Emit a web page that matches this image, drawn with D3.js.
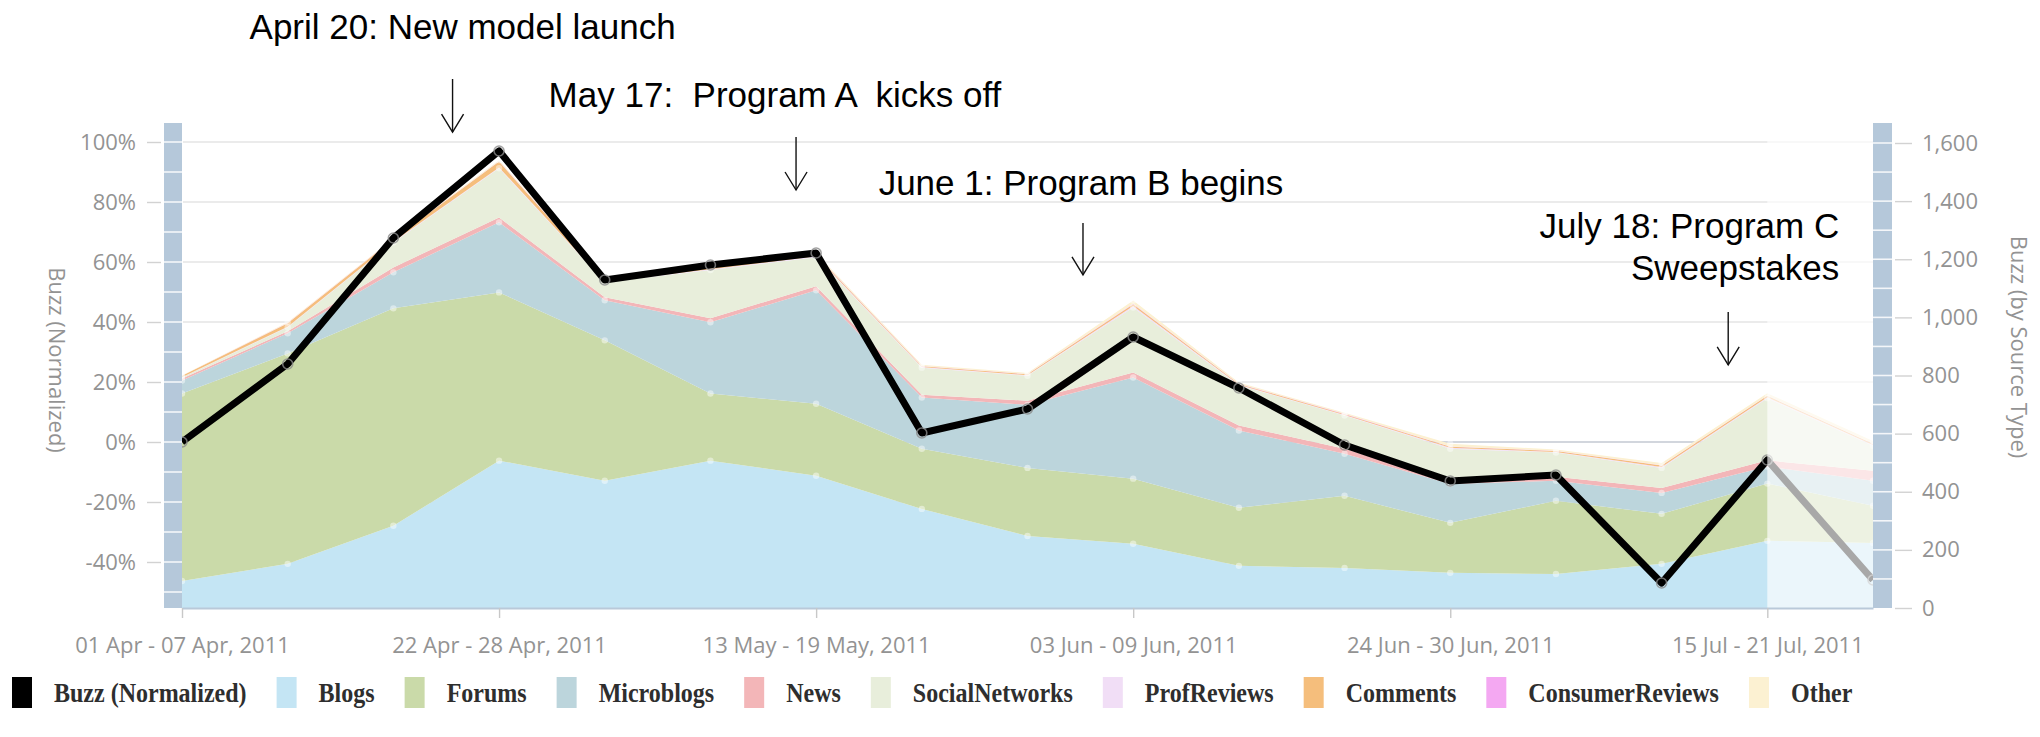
<!DOCTYPE html>
<html>
<head>
<meta charset="utf-8">
<script src="https://cdn.jsdelivr.net/npm/d3@7"></script>
<style>
  html, body { margin: 0; padding: 0; background: #fff; }
  svg { display: block; }
</style>
</head>
<body>
<svg id="chart" width="2040" height="737"></svg>
<script>
// ---- data ------------------------------------------------------------
const weeks = [
  "01 Apr - 07 Apr, 2011", "08 Apr - 14 Apr, 2011", "15 Apr - 21 Apr, 2011",
  "22 Apr - 28 Apr, 2011", "29 Apr - 05 May, 2011", "06 May - 12 May, 2011",
  "13 May - 19 May, 2011", "20 May - 26 May, 2011", "27 May - 02 Jun, 2011",
  "03 Jun - 09 Jun, 2011", "10 Jun - 16 Jun, 2011", "17 Jun - 23 Jun, 2011",
  "24 Jun - 30 Jun, 2011", "01 Jul - 07 Jul, 2011", "08 Jul - 14 Jul, 2011",
  "15 Jul - 21 Jul, 2011", "22 Jul - 28 Jul, 2011"
];
const xTickLabels = [
  "01 Apr - 07 Apr, 2011", "22 Apr - 28 Apr, 2011", "13 May - 19 May, 2011",
  "03 Jun - 09 Jun, 2011", "24 Jun - 30 Jun, 2011", "15 Jul - 21 Jul, 2011"
];
const leftTicks = [-40, -20, 0, 20, 40, 60, 80, 100];
const rightTicks = [0, 200, 400, 600, 800, 1000, 1200, 1400, 1600];

// normalized buzz, percent
const buzzNormalized = [0, 26, 68, 97, 54, 59, 63, 3, 11, 35, 18, -1, -13, -11, -47, -6, -46];

// mentions by source type
const blogs           = [93, 152, 283, 507, 438, 507, 455, 341, 248, 221, 145, 138, 121, 117, 152, 231, 224];
const forums          = [645, 724, 748, 579, 483, 231, 248, 207, 234, 224, 200, 248, 172, 252, 172, 197, 128];
const microblogs      = [45, 69, 124, 241, 138, 245, 390, 176, 217, 348, 266, 145, 134, 69, 72, 59, 86];
const news            = [7, 7, 17, 17, 10, 14, 14, 10, 14, 17, 17, 17, 7, 14, 17, 21, 34];
const socialNetworks  = [3, 14, 86, 169, 52, 166, 100, 93, 86, 224, 138, 114, 114, 83, 69, 214, 86];
const profReviews     = [1, 2, 2, 3, 2, 3, 3, 2, 2, 5, 2, 2, 3, 2, 3, 3, 3];
const comments        = [5, 12, 9, 20, 4, 6, 5, 3, 3, 6, 3, 3, 4, 3, 5, 5, 4];
const consumerReviews = [0, 1, 1, 1, 1, 1, 1, 1, 1, 2, 1, 1, 1, 1, 1, 1, 1];
const other           = [1, 2, 2, 4, 3, 4, 5, 4, 4, 11, 4, 4, 9, 4, 8, 8, 9];

const seriesNames = ["Blogs", "Forums", "Microblogs", "News", "SocialNetworks",
                     "ProfReviews", "Comments", "ConsumerReviews", "Other"];
const seriesValues = [blogs, forums, microblogs, news, socialNetworks,
                      profReviews, comments, consumerReviews, other];
const seriesColors = ["#c4e5f4", "#cadaa9", "#bcd5dc", "#f3b6b8", "#e8eedb",
                      "#f1def6", "#f5be7c", "#f4a8f2", "#fcf1d2"];

// the last week is still in progress
const partialFromIndex = 15;

// event callouts (positions in week-index / percent units)
const annotations = [
  { lines: ["April 20: New model launch"], anchor: "middle", textAt: 2.655, baselines: [134.3],
    arrowAt: 2.56, arrowFrom: 121, arrowTo: 103.3 },
  { lines: ["May 17:  Program A  kicks off"], anchor: "middle", textAt: 5.61, baselines: [111.7],
    arrowAt: 5.81, arrowFrom: 101.7, arrowTo: 84 },
  { lines: ["June 1: Program B begins"], anchor: "middle", textAt: 8.506, baselines: [82.3],
    arrowAt: 8.525, arrowFrom: 73, arrowTo: 55.7 },
  { lines: ["July 18: Program C", "Sweepstakes"], anchor: "end", textAt: 15.68, baselines: [68, 54],
    arrowAt: 14.63, arrowFrom: 43.3, arrowTo: 25.7 }
];

// ---- layout ----------------------------------------------------------
const plot = { left: 182, right: 1873, top: 123, bottom: 608 };
const axisFont = "'Open Sans', 'Lato', sans-serif";
const axisColor = "#939393";
const svg = d3.select("#chart");

const x = d3.scalePoint().domain(weeks).range([plot.left, plot.right]);
const xIdx = d3.scaleLinear().domain([0, weeks.length - 1]).range([plot.left, plot.right]);
const yL = d3.scaleLinear().domain([-40, 100]).range([562, 142]);
const yR = d3.scaleLinear().domain([0, 1600]).range([608, 143]);

// gridlines
svg.append("g").selectAll("line").data(leftTicks).join("line")
  .attr("x1", plot.left + 1).attr("x2", plot.right)
  .attr("y1", d => yL(d)).attr("y2", d => yL(d))
  .attr("stroke", d => d === 0 ? "#c3c9d2" : "#ebebeb")
  .attr("stroke-width", d => d === 0 ? 1.6 : 2);

// stacked source areas
const rows = weeks.map((w, i) => {
  const r = { week: w };
  seriesNames.forEach((n, k) => { r[n] = seriesValues[k][i]; });
  return r;
});
const stacked = d3.stack().keys(seriesNames)(rows);
const area = d3.area()
  .x(d => x(d.data.week))
  .y0(d => yR(d[0]))
  .y1(d => yR(d[1]));

svg.append("g").selectAll("path").data(stacked).join("path")
  .attr("d", area)
  .attr("fill", (d, i) => seriesColors[i]);

// faint vertex dots along the main layer tops
const dotted = ["Blogs", "Forums", "Microblogs", "SocialNetworks", "Other"];
svg.append("g").selectAll("g").data(stacked.filter(s => dotted.includes(s.key))).join("g")
  .selectAll("circle").data(s => s).join("circle")
  .attr("cx", d => x(d.data.week)).attr("cy", d => yR(d[1]))
  .attr("r", 3.2).attr("fill", "#fff").attr("opacity", 0.45);

// normalized buzz line
const buzzLine = d3.line()
  .x((d, i) => x(weeks[i]))
  .y(d => yL(d));
svg.append("path").datum(buzzNormalized)
  .attr("d", buzzLine)
  .attr("fill", "none")
  .attr("stroke", "#000")
  .attr("stroke-width", 7)
  .attr("stroke-linejoin", "round");
svg.append("g").selectAll("circle").data(buzzNormalized).join("circle")
  .attr("cx", (d, i) => x(weeks[i])).attr("cy", d => yL(d))
  .attr("r", 5).attr("fill", "none")
  .attr("stroke", "#8a8a8a").attr("stroke-width", 1.6).attr("opacity", 0.8);

// wash over the incomplete week
svg.append("rect")
  .attr("x", x(weeks[partialFromIndex]))
  .attr("y", plot.top)
  .attr("width", x(weeks[weeks.length - 1]) - x(weeks[partialFromIndex]))
  .attr("height", plot.bottom - plot.top)
  .attr("fill", "#fff").attr("opacity", 0.66);

// axis tracks with minor separators
function track(x0, w, scale, minors) {
  const g = svg.append("g");
  g.append("rect").attr("x", x0).attr("y", plot.top)
    .attr("width", w).attr("height", plot.bottom - plot.top)
    .attr("fill", "#b5c8da");
  g.selectAll("line").data(minors).join("line")
    .attr("x1", x0).attr("x2", x0 + w)
    .attr("y1", d => scale(d)).attr("y2", d => scale(d))
    .attr("stroke", "#fff").attr("stroke-width", 1.6).attr("opacity", 0.85);
}
track(164, 18, yL, d3.range(-50, 101, 10));
track(1873, 19, yR, d3.range(100, 1601, 100));

function styleTickText(sel, size) {
  sel.attr("fill", axisColor)
    .style("font-family", axisFont).style("font-size", size + "px").style("font-weight", 400);
}

// left axis
const gl = svg.append("g").attr("transform", "translate(161,0)")
  .call(d3.axisLeft(yL).tickValues(leftTicks).tickSize(14).tickPadding(11)
    .tickFormat(d => d + "%"));
gl.select(".domain").remove();
gl.selectAll(".tick line").attr("stroke", "#d2d2d2").attr("stroke-width", 1.4);
styleTickText(gl.selectAll(".tick text"), 22);

// right axis
const gr = svg.append("g").attr("transform", "translate(1895,0)")
  .call(d3.axisRight(yR).tickValues(rightTicks).tickSize(17).tickPadding(10)
    .tickFormat(d3.format(",")));
gr.select(".domain").remove();
gr.selectAll(".tick line").attr("stroke", "#d2d2d2").attr("stroke-width", 1.4);
styleTickText(gr.selectAll(".tick text"), 22);

// bottom axis
const gx = svg.append("g").attr("transform", `translate(0,${plot.bottom})`)
  .call(d3.axisBottom(x).tickValues(xTickLabels).tickSize(10).tickSizeOuter(0).tickPadding(19));
gx.select(".domain").attr("stroke", "#b9c9d9").attr("stroke-width", 2);
gx.selectAll(".tick line").attr("stroke", "#c8c8c8").attr("stroke-width", 1.4);
styleTickText(gx.selectAll(".tick text"), 22);

// axis titles
function axisTitle(tx, ty, label) {
  styleTickText(svg.append("text")
    .attr("transform", `translate(${tx},${ty}) rotate(90)`)
    .attr("text-anchor", "middle").attr("dominant-baseline", "middle")
    .text(label), 22);
}
axisTitle(55, 360, "Buzz (Normalized)");
axisTitle(2017, 347, "Buzz (by Source Type)");

// event callouts
const ann = svg.append("g");
annotations.forEach(a => {
  a.lines.forEach((line, k) => {
    ann.append("text")
      .attr("x", xIdx(a.textAt)).attr("y", yL(a.baselines[k]))
      .attr("text-anchor", a.anchor)
      .attr("fill", "#000")
      .style("font-family", "'Liberation Sans', Arial, sans-serif")
      .style("font-size", "35px")
      .style("white-space", "pre")
      .text(line);
  });
  const ax = xIdx(a.arrowAt), y1 = yL(a.arrowFrom), y2 = yL(a.arrowTo);
  ann.append("line").attr("x1", ax).attr("x2", ax).attr("y1", y1).attr("y2", y2)
    .attr("stroke", "#111").attr("stroke-width", 1.4);
  ann.append("path")
    .attr("d", `M${ax - 11},${y2 - 18}L${ax},${y2}L${ax + 11},${y2 - 18}`)
    .attr("fill", "none").attr("stroke", "#111").attr("stroke-width", 1.4);
});

// legend: bold serif labels, drawn tall and narrow
const legendItems = [{ name: "Buzz (Normalized)", color: "#000" }]
  .concat(seriesNames.map((n, i) => ({ name: n, color: seriesColors[i] })));
const legend = svg.append("g");
let cursor = 12;
const legendY = 692;
legendItems.forEach(item => {
  legend.append("rect")
    .attr("x", cursor).attr("y", legendY - 15)
    .attr("width", 20).attr("height", 31)
    .attr("fill", item.color);
  const t = legend.append("text")
    .attr("x", cursor + 42).attr("y", legendY)
    .attr("dominant-baseline", "central")
    .attr("fill", "#2e2e2e")
    .style("font-family", "'Liberation Serif', 'DejaVu Serif', serif")
    .style("font-weight", "bold")
    .style("font-size", "24px")
    .text(item.name);
  const w = t.node().getComputedTextLength();
  t.style("font-size", "28px")
    .attr("textLength", w)
    .attr("lengthAdjust", "spacingAndGlyphs");
  cursor += 42 + w + 30;
});
</script>
</body>
</html>
